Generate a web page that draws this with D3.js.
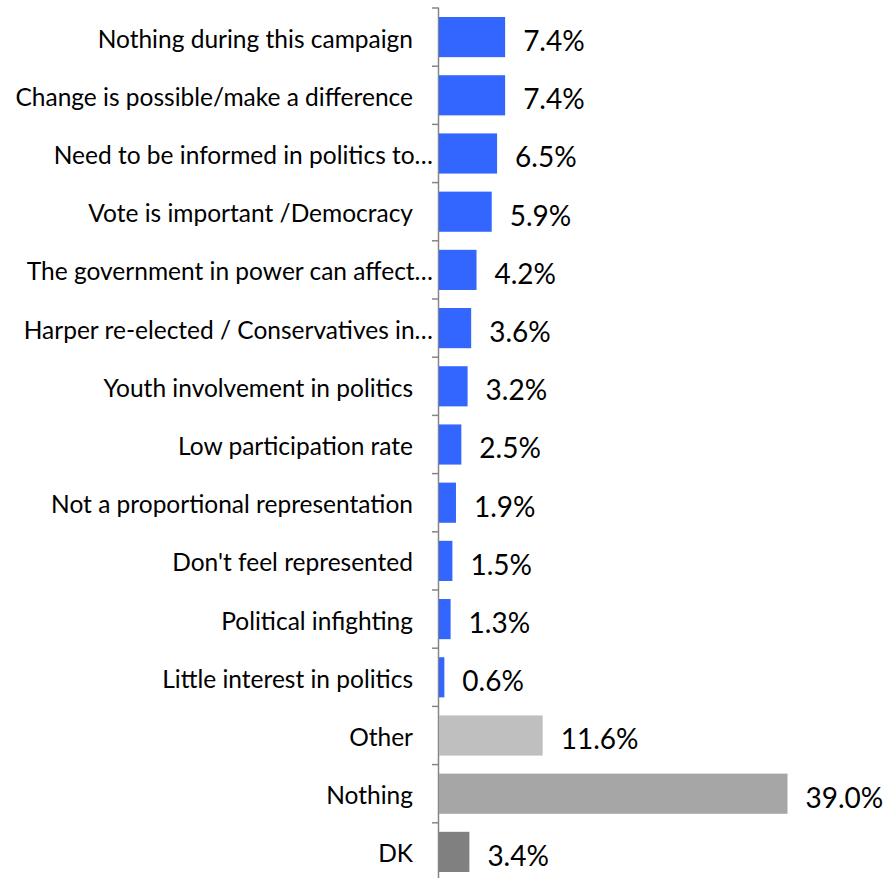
<!DOCTYPE html>
<html>
<head>
<meta charset="utf-8">
<script src="https://cdn.jsdelivr.net/npm/d3@7"></script>
<style>
  html, body { margin: 0; padding: 0; background: #fff; }
  svg { display: block; }
</style>
</head>
<body>
<svg id="chart" width="888" height="878"></svg>
<script>
// Reasons, share of respondents (%)
const categories = [
  "Nothing during this campaign",
  "Change is possible/make a difference",
  "Need to be informed in politics to…",
  "Vote is important  /Democracy",
  "The government in power can affect…",
  "Harper re-elected / Conservatives in…",
  "Youth involvement in politics",
  "Low participation rate",
  "Not a proportional representation",
  "Don't feel represented",
  "Political infighting",
  "Little interest in politics",
  "Other",
  "Nothing",
  "DK"
];
const values = [7.4, 7.4, 6.5, 5.9, 4.2, 3.6, 3.2, 2.5, 1.9, 1.5, 1.3, 0.6, 11.6, 39.0, 3.4];
const barColors = [
  "#3366FF", "#3366FF", "#3366FF", "#3366FF", "#3366FF", "#3366FF",
  "#3366FF", "#3366FF", "#3366FF", "#3366FF", "#3366FF", "#3366FF",
  "#BFBFBF", "#A6A6A6", "#808080"
];

const svg = d3.select("#chart");
const x0 = 439;

const x = d3.scaleLinear().domain([0, 39]).range([x0, 787.5]);
const y = d3.scaleBand().domain(categories).range([8, 881]).paddingInner(0.31).paddingOuter(0.155);

// Category axis with ticks between bands
const bounds = d3.range(categories.length + 1).map(i => 8 + i * (881 - 8) / categories.length);
svg.append("line")
  .attr("x1", x0 - 0.5).attr("x2", x0 - 0.5)
  .attr("y1", 8).attr("y2", 881)
  .attr("stroke", "#868686").attr("stroke-width", 1.5);
svg.selectAll("line.tick").data(bounds).join("line")
  .attr("class", "tick")
  .attr("x1", x0 - 7).attr("x2", x0)
  .attr("y1", d => d).attr("y2", d => d)
  .attr("stroke", "#868686").attr("stroke-width", 1.5);

// Bars
svg.selectAll("rect.bar").data(values).join("rect")
  .attr("class", "bar")
  .attr("x", x0)
  .attr("y", (d, i) => y(categories[i]))
  .attr("width", d => x(d) - x0)
  .attr("height", y.bandwidth())
  .attr("fill", (d, i) => barColors[i]);

// Category labels
svg.selectAll("text.cat").data(categories).join("text")
  .attr("class", "cat")
  .attr("x", d => d.endsWith("…") ? 433 : 413)
  .attr("y", d => y(d) + y.bandwidth() / 2 + 2)
  .attr("dy", "0.35em")
  .attr("text-anchor", "end")
  .attr("font-family", "Lato, 'Open Sans', sans-serif")
  .attr("font-size", 24.5)
  .attr("fill", "#000")
  .text(d => d);

// Value labels
svg.selectAll("text.val").data(values).join("text")
  .attr("class", "val")
  .attr("x", d => x(d) + 18)
  .attr("y", (d, i) => y(categories[i]) + y.bandwidth() / 2 + 4)
  .attr("dy", "0.35em")
  .attr("font-family", "Lato, 'Open Sans', sans-serif")
  .attr("font-size", 28)
  .attr("fill", "#000")
  .text(d => d.toFixed(1) + "%");
</script>
</body>
</html>
